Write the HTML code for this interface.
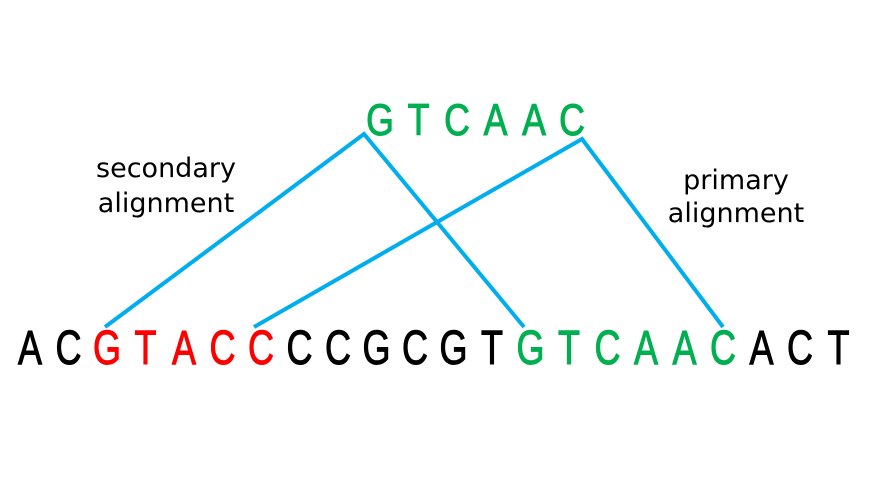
<!DOCTYPE html>
<html><head><style>html,body{margin:0;padding:0;background:#fff;}</style></head>
<body>
<svg width="870" height="477" xmlns="http://www.w3.org/2000/svg" font-family="Liberation Sans, sans-serif">
<g stroke="#00AEEF" stroke-width="4" fill="none" stroke-linecap="butt">
<polyline points="105,327 364,134 524,327"/>
<polyline points="254,327 582,139 723,327"/>
</g>
<g font-size="27" fill="#000" text-anchor="middle" font-family="DejaVu Sans, sans-serif">
<text x="166" y="177">secondary</text>
<text x="166" y="212">alignment</text>
<text x="736" y="189">primary</text>
<text x="736" y="222">alignment</text>
</g>
<g font-size="42" fill="#00B050" stroke="#00B050" stroke-width="1" text-anchor="middle">
<text transform="translate(380,135) scale(0.85,1.05)">G</text>
<text transform="translate(418.5,135) scale(0.85,1.05)">T</text>
<text transform="translate(457,135) scale(0.85,1.05)">C</text>
<text transform="translate(495.5,135) scale(0.85,1.05)">A</text>
<text transform="translate(534,135) scale(0.85,1.05)">A</text>
<text transform="translate(572,135) scale(0.85,1.05)">C</text>
</g>
<g font-size="45" text-anchor="middle" stroke-width="1">
<text transform="translate(30,364) scale(0.8,1.08)" fill="#000" stroke="#000">A</text>
<text transform="translate(68.5,364) scale(0.8,1.08)" fill="#000" stroke="#000">C</text>
<text transform="translate(107,364) scale(0.8,1.08)" fill="#f00" stroke="#f00">G</text>
<text transform="translate(145.5,364) scale(0.8,1.08)" fill="#f00" stroke="#f00">T</text>
<text transform="translate(184,364) scale(0.8,1.08)" fill="#f00" stroke="#f00">A</text>
<text transform="translate(222.5,364) scale(0.8,1.08)" fill="#f00" stroke="#f00">C</text>
<text transform="translate(261,364) scale(0.8,1.08)" fill="#f00" stroke="#f00">C</text>
<text transform="translate(299.5,364) scale(0.8,1.08)" fill="#000" stroke="#000">C</text>
<text transform="translate(338,364) scale(0.8,1.08)" fill="#000" stroke="#000">C</text>
<text transform="translate(376.5,364) scale(0.8,1.08)" fill="#000" stroke="#000">G</text>
<text transform="translate(415,364) scale(0.8,1.08)" fill="#000" stroke="#000">C</text>
<text transform="translate(453.5,364) scale(0.8,1.08)" fill="#000" stroke="#000">G</text>
<text transform="translate(492,364) scale(0.8,1.08)" fill="#000" stroke="#000">T</text>
<text transform="translate(530.5,364) scale(0.8,1.08)" fill="#00B050" stroke="#00B050">G</text>
<text transform="translate(569,364) scale(0.8,1.08)" fill="#00B050" stroke="#00B050">T</text>
<text transform="translate(607.5,364) scale(0.8,1.08)" fill="#00B050" stroke="#00B050">C</text>
<text transform="translate(646,364) scale(0.8,1.08)" fill="#00B050" stroke="#00B050">A</text>
<text transform="translate(684.5,364) scale(0.8,1.08)" fill="#00B050" stroke="#00B050">A</text>
<text transform="translate(723,364) scale(0.8,1.08)" fill="#00B050" stroke="#00B050">C</text>
<text transform="translate(761.5,364) scale(0.8,1.08)" fill="#000" stroke="#000">A</text>
<text transform="translate(800,364) scale(0.8,1.08)" fill="#000" stroke="#000">C</text>
<text transform="translate(838.5,364) scale(0.8,1.08)" fill="#000" stroke="#000">T</text>
</g>
</svg>
</body></html>
